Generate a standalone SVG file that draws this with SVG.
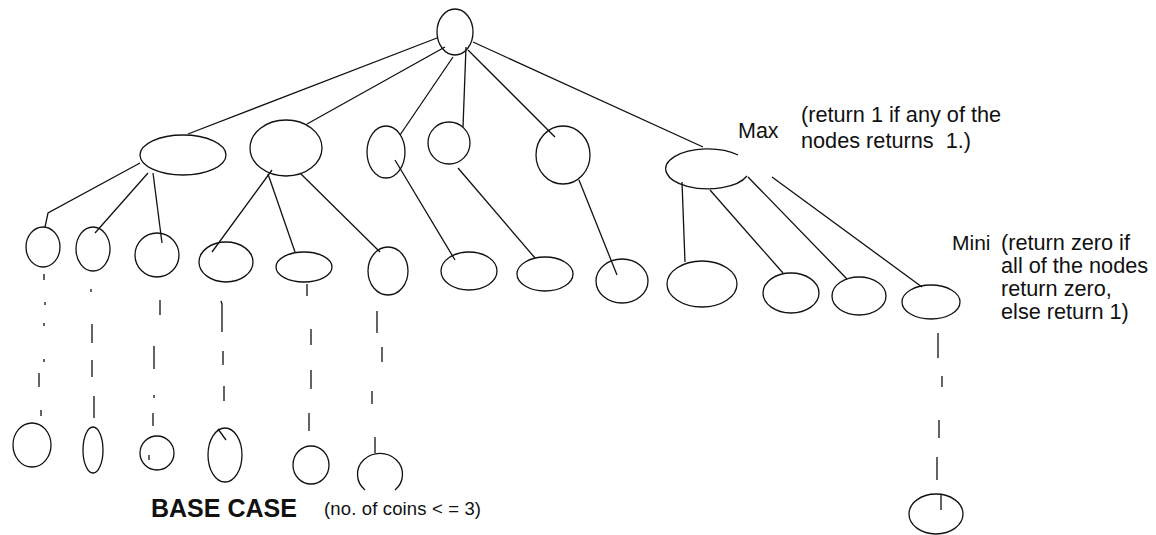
<svg xmlns="http://www.w3.org/2000/svg" width="1156" height="535" viewBox="0 0 1156 535">
<style>
.n{fill:none;stroke:#111;stroke-width:1.3}
.c{fill:none;stroke:#111;stroke-width:1.3;stroke-linecap:butt}
.t{font-family:"Liberation Sans",Arial,sans-serif;fill:#111}
</style>
<rect width="1156" height="535" fill="#fff"/>
<g id="connectors" class="c">
<line x1="437" y1="38" x2="188" y2="134"/>
<line x1="445" y1="47" x2="307" y2="124"/>
<line x1="453" y1="57" x2="400" y2="135"/>
<line x1="466" y1="47" x2="463" y2="127"/>
<line x1="468" y1="50" x2="555" y2="137"/>
<line x1="473" y1="42" x2="703" y2="147"/>
<polyline points="140,163 48,213 45,227"/>
<line x1="148" y1="173" x2="95" y2="233"/>
<line x1="153" y1="173" x2="162" y2="243"/>
<line x1="272" y1="170" x2="212" y2="252"/>
<line x1="268" y1="174" x2="295" y2="252"/>
<line x1="300" y1="173" x2="380" y2="252"/>
<line x1="395" y1="160" x2="455" y2="260"/>
<line x1="458" y1="168" x2="535" y2="258"/>
<line x1="579" y1="180" x2="617" y2="275"/>
<line x1="682" y1="182" x2="685" y2="262"/>
<line x1="710" y1="190" x2="783" y2="273"/>
<line x1="748" y1="177" x2="847" y2="279"/>
<line x1="772" y1="177" x2="922" y2="287"/>
<path d="M44,274V280M45,302V305M44,323V326M44,359V362M39,373V387M41,410V416"/>
<path d="M91,289V292M92,324V343M92,360V377M94,396V418"/>
<path d="M160,300V315M154,346V369M154,395V398M153,413V426M149,455V460"/>
<path d="M221,301L222,304V332M223,351V365M224,386V401M218,429L226,440"/>
<path d="M307,284V296M311,329V345M311,370V389M309,413V431"/>
<path d="M377,311V333M382,347V362M372,391V404M375,437V453"/>
<path d="M938,333V358M942,376V387M939,420V438M937,457V480M941,495V510"/>
</g>
<g id="root" class="n"><ellipse cx="455" cy="32" rx="18" ry="23"/></g>
<g id="n1" class="n"><ellipse cx="183" cy="155" rx="43" ry="20"/></g>
<g id="n2" class="n"><ellipse cx="286" cy="148" rx="36" ry="28"/></g>
<g id="n3" class="n"><ellipse cx="386" cy="152" rx="19" ry="26"/></g>
<g id="n4" class="n"><ellipse cx="449" cy="143" rx="21" ry="21"/></g>
<g id="n5" class="n"><ellipse cx="563" cy="155" rx="27" ry="29"/></g>
<g id="max" class="n"><path d="M738,155 A42,20 0 1,0 747,176"/></g>
<g id="a" class="n"><ellipse cx="43" cy="247" rx="17" ry="20"/></g>
<g id="b" class="n"><ellipse cx="93" cy="249" rx="17" ry="22"/></g>
<g id="c" class="n"><ellipse cx="157" cy="255" rx="22" ry="22"/></g>
<g id="d" class="n"><ellipse cx="226" cy="262" rx="27" ry="20"/></g>
<g id="e" class="n"><ellipse cx="304" cy="267" rx="28" ry="15"/></g>
<g id="f" class="n"><ellipse cx="388" cy="271" rx="20" ry="24"/></g>
<g id="g" class="n"><ellipse cx="469" cy="271" rx="28" ry="19"/></g>
<g id="h" class="n"><ellipse cx="545" cy="274" rx="28" ry="17"/></g>
<g id="i" class="n"><ellipse cx="622" cy="281" rx="26" ry="22"/></g>
<g id="j" class="n"><ellipse cx="702" cy="284" rx="35" ry="23"/></g>
<g id="k" class="n"><ellipse cx="791" cy="293" rx="28" ry="20"/></g>
<g id="l" class="n"><ellipse cx="859" cy="296" rx="27" ry="19"/></g>
<g id="m" class="n"><ellipse cx="931" cy="302" rx="29" ry="17"/></g>
<g id="b1" class="n"><ellipse cx="32" cy="445" rx="19" ry="22"/></g>
<g id="b2" class="n"><ellipse cx="93" cy="450" rx="10" ry="23"/></g>
<g id="b3" class="n"><ellipse cx="157" cy="453" rx="17" ry="17"/></g>
<g id="b4" class="n"><ellipse cx="225" cy="455" rx="17" ry="27"/></g>
<g id="b5" class="n"><ellipse cx="311" cy="465" rx="18" ry="19"/></g>
<g id="b6" class="n"><path d="M365,490 A22.5,21 0 1,1 395,490"/></g>
<g id="b7" class="n"><ellipse cx="936" cy="514" rx="27" ry="20"/></g>
<g id="labels" class="t">
<text x="738" y="138" font-size="21.5">Max</text>
<text x="801" y="122" font-size="21.7">(return 1 if any of the</text>
<text x="801" y="148" font-size="21.7" xml:space="preserve">nodes returns  1.)</text>
<text x="952" y="250" font-size="21">Mini</text>
<text x="1001" y="250" font-size="21.7">(return zero if</text>
<text x="1001" y="273" font-size="21.7">all of the nodes</text>
<text x="1001" y="296" font-size="21.7">return zero,</text>
<text x="1001" y="319" font-size="21.7">else return 1)</text>
<text x="151" y="517" font-size="25" font-weight="bold">BASE CASE</text>
<text x="324" y="515" font-size="18.5" textLength="157" lengthAdjust="spacing">(no. of coins &lt; = 3)</text>
</g>
</svg>
